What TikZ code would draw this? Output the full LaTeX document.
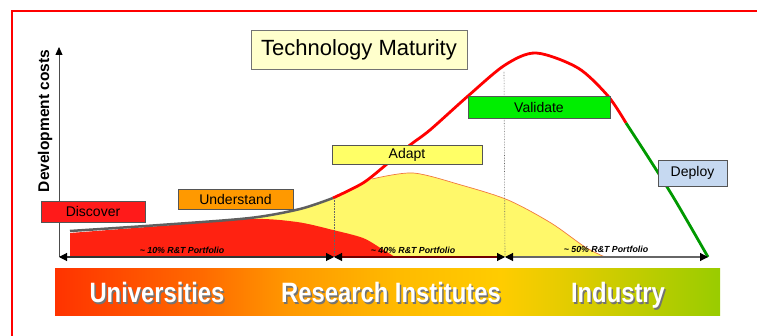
\documentclass[tikz,border=0pt]{standalone}
\usepackage{fontspec}
\setmainfont{Liberation Sans}
\newfontfamily\narrowsans[FakeStretch=0.85]{Liberation Sans}
\usetikzlibrary{arrows.meta}

\definecolor{boxline}{HTML}{555555}
\definecolor{titlefill}{HTML}{FFFFCC}
\definecolor{adaptfill}{HTML}{FFFF66}
\definecolor{validfill}{HTML}{00EE00}
\definecolor{deployfill}{HTML}{C6D9F1}
\definecolor{understfill}{HTML}{FF9900}
\definecolor{discovfill}{HTML}{FF1A1A}
\definecolor{curvered}{HTML}{FF0000}
\definecolor{curvegreen}{HTML}{009900}
\definecolor{areared}{HTML}{FF2211}
\definecolor{areayellow}{HTML}{FFF86A}
\definecolor{envgray}{HTML}{5F5F5F}
\definecolor{edgeorange}{HTML}{F07840}
\definecolor{bandA}{HTML}{FF3300}
\definecolor{bandB}{HTML}{FF6A00}
\definecolor{bandC}{HTML}{FF9900}
\definecolor{bandD}{HTML}{FFBB00}
\definecolor{bandE}{HTML}{FFCC00}
\definecolor{bandF}{HTML}{E6CC00}
\definecolor{bandG}{HTML}{99CC00}

\pgfdeclarehorizontalshading{bandshade}{100bp}{color(0bp)=(bandA); color(25bp)=(bandA);
  color(36bp)=(bandB); color(42.7bp)=(bandC); color(51bp)=(bandD); color(58.5bp)=(bandE);
  color(63bp)=(bandF); color(75bp)=(bandG); color(100bp)=(bandG)}

\begin{document}
\begin{tikzpicture}[x=1pt, y=-1pt,
	stagebox/.style={draw=boxline, line width=0.8pt, inner sep=0pt, font=\fontsize{14}{16}\selectfont},
	portfolio/.style={inner sep=0pt, font=\fontsize{8.8}{10}\selectfont\bfseries\itshape},
	bandtext/.style={anchor=base, inner sep=0pt, text=white, font=\narrowsans\fontsize{28}{30}\selectfont\bfseries},
	bandshadow/.style={bandtext, text=black!55},
	span/.style={line width=1.1pt, {Triangle[length=8pt,width=8pt,color=black]}-{Triangle[length=8pt,width=8pt,color=black]}}]
	\useasboundingbox (0,0) rectangle (757,336);
	
	% frame
	\draw[red, line width=1.6pt] (12,336) -- (12,11) -- (757,11);
	
	% cost areas
	\fill[areayellow] plot[smooth] coordinates {(250,219) (300,209) (333,198) (363,183) (372,179)}
		-- plot[smooth] coordinates {(372,179) (413,173) (461,185) (508,200) (551,223) (585,247) (605,257)}
		-- (250,257) -- cycle;
	\fill[areared] (70,257) -- plot[smooth] coordinates {(70,233) (160,226) (250,219) (297,222) (333,230) (363,238) (382,249) (395,257)} -- cycle;
	\draw[edgeorange, line width=0.7pt] plot[smooth] coordinates {(372,179) (413,173) (461,185) (508,200) (551,223) (585,247) (605,257)};
	\draw[envgray, line width=2.5pt] plot[smooth] coordinates {(70,231) (160,225) (250,218) (300,209) (333,198)};
	
	% maturity curve
	\draw[curvered, line width=2.8pt] plot[smooth] coordinates {(333,198) (363,183) (387,164) (410,145) (430,130) (468,96) (505,65) (536,53) (578,68) (608,96) (626,123)};
	\draw[curvegreen, line width=2.8pt] plot[smooth] coordinates {(626,123) (650,160) (675,200) (708,257)};
	
	% axis and spans
	\coordinate (origin) at (59,257);
	\coordinate (ytop) at (59,47);
	\coordinate (b1) at (334,257);
	\coordinate (b2) at (505,257);
	\coordinate (b3) at (708,257);
	\draw[densely dotted, black!60, line width=0.6pt] (334,198) -- (b1);
	\draw[densely dotted, black!60, line width=0.6pt] (504,72) -- (b2);
	\draw[black!70, line width=0.8pt, -{Triangle[length=8pt,width=7pt,color=black]}] (origin) -- (ytop);
	\draw[span, black!80] (origin) -- (b1);
	\draw[span, red!45!black] (b1) -- (b2);
	\draw[span, black!60] (b2) -- (b3);
	
	\node[rotate=90, font=\fontsize{15.5}{17}\selectfont\bfseries] (ycost) at (45,121) {Development costs};
	\node[portfolio] (p10) at (182,250) {\textasciitilde\ 10\% R\&T Portfolio};
	\node[portfolio] (p40) at (413,250) {\textasciitilde\ 40\% R\&T Portfolio};
	\node[portfolio] (p50) at (606,249) {\textasciitilde\ 50\% R\&T Portfolio};
	
	% stages
	\node[stagebox, fill=discovfill, minimum width=104pt, minimum height=21pt] (discover) at (93,211.5) {Discover};
	\node[stagebox, fill=understfill, minimum width=115pt, minimum height=20pt] (understand) at (235.5,199) {Understand};
	\node[stagebox, fill=adaptfill, minimum width=150pt, minimum height=19pt] (adapt) at (407,154.5) {Adapt};
	\node[stagebox, fill=validfill, minimum width=142pt, minimum height=22pt] (validate) at (539,107) {Validate};
	\node[stagebox, fill=deployfill, minimum width=69pt, minimum height=26pt] (deploy) at (692.5,173) {Deploy};
	
	\node[stagebox, draw=black!55, fill=titlefill, minimum width=216pt, minimum height=39pt,
		font=\fontsize{22}{24}\selectfont] (title) at (359,49.5) {Technology Maturity};
	
	% sectors
	\node[shade, shading=bandshade, minimum width=665pt, minimum height=47pt, inner sep=0pt] (band) at (387.5,292.5) {};
	\node[bandshadow] (univ shadow) at (158.5,304.5) {Universities};
	\node[bandtext] (univ) at (157,303) {Universities};
	\node[bandshadow] (inst shadow) at (392.5,304.5) {Research Institutes};
	\node[bandtext] (inst) at (391,303) {Research Institutes};
	\node[bandshadow] (ind shadow) at (619.5,304.5) {Industry};
	\node[bandtext] (ind) at (618,303) {Industry};
\end{tikzpicture}
\end{document}
